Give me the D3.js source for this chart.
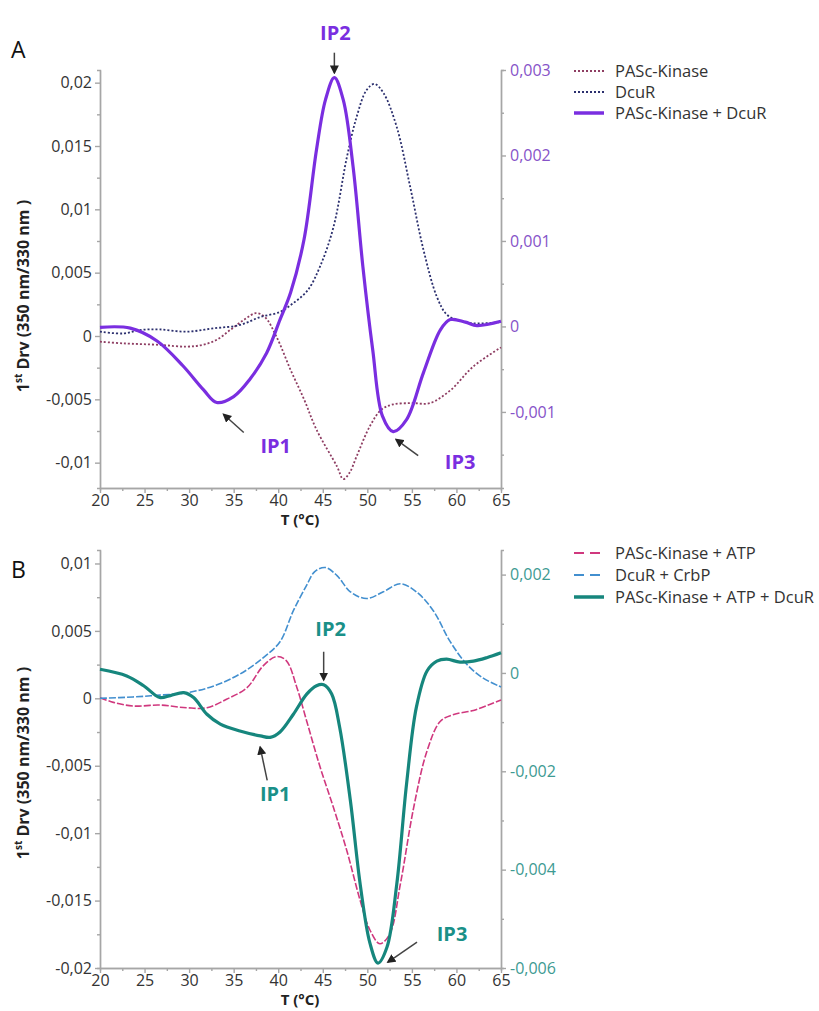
<!DOCTYPE html>
<html>
<head>
<meta charset="utf-8">
<script src="https://cdn.jsdelivr.net/npm/d3@7"></script>
<style>
  body { margin: 0; background: #fff; }
  svg { font-family: "Open Sans", sans-serif; }
</style>
</head>
<body>
<div id="chart"></div>
<script>
// ---- data, panel A ----
const kinaseT_A = [20, 22.6, 26.7, 29.7, 31.5, 33.1, 34.6, 36.2, 37.5, 38.5, 39.8, 41.4, 42.9, 44.3, 46.6, 47.3, 48.0, 48.8, 50.3, 51.6, 52.9, 55.0, 57.0, 59.3, 61.9, 65];
const kinaseV_A = [-0.00045, -0.00058, -0.0007, -0.00084, -0.0007, -0.0003, 0.00047, 0.0013, 0.0018, 0.0015, -0.00005, -0.0027, -0.005, -0.0074, -0.0103, -0.0113, -0.0108, -0.0095, -0.0071, -0.0058, -0.0054, -0.0053, -0.0053, -0.0043, -0.0024, -0.0009];

const dcurT_A = [20, 22.6, 24.5, 26.7, 29.7, 32.7, 35.7, 38.0, 40.2, 41.7, 43.3, 44.7, 46.2, 47.7, 48.8, 49.9, 50.8, 51.8, 53.3, 54.8, 56.3, 57.8, 58.9, 60.0, 62.0, 65];
const dcurV_A = [0.00034, 0.0002, 0.00047, 0.00052, 0.00034, 0.0006, 0.00087, 0.0015, 0.0019, 0.0026, 0.0036, 0.0055, 0.0086, 0.0141, 0.0173, 0.0194, 0.0199, 0.0192, 0.0165, 0.0118, 0.0068, 0.0031, 0.0017, 0.0013, 0.0010, 0.0011];

// complex, plotted against the right axis
const complexT_A = [20, 23.4, 26.4, 29.3, 31.6, 33.1, 35.0, 36.8, 38.7, 40.2, 41.4, 42.9, 44.3, 45.3, 46.3, 47.3, 48.4, 49.5, 50.6, 51.7, 52.9, 54.4, 56.3, 58.2, 59.3, 61.0, 62.3, 65];
const complexV_A = [-0.00001, -0.00002, -0.00017, -0.00046, -0.00074, -0.00089, -0.00082, -0.00062, -0.00031, 0.00008, 0.0004, 0.00102, 0.00207, 0.00265, 0.00291, 0.00265, 0.00187, 0.0007, -0.00027, -0.00105, -0.00123, -0.00109, -0.00054, -0.00004, 0.00008, 0.00005, 0.00001, 0.00006];

// ---- data, panel B ----
const kinaseT_B = [20, 21.5, 23.7, 26.7, 29.7, 32.0, 34.2, 36.5, 38.3, 39.8, 40.9, 42.1, 43.2, 44.7, 46.2, 47.7, 49.2, 50.3, 51.4, 52.5, 53.7, 55.2, 56.7, 58.2, 59.7, 61.9, 63.8, 65];
const kinaseV_B = [0.00005, -0.0003, -0.00057, -0.0005, -0.0007, -0.0007, -0.00007, 0.00079, 0.0024, 0.0031, 0.0028, 0.00079, -0.0017, -0.0051, -0.0081, -0.0113, -0.015, -0.0172, -0.0182, -0.0175, -0.0138, -0.0081, -0.0039, -0.0017, -0.0012, -0.0009, -0.00044, -0.00013];

const dcurT_B = [20, 23.7, 26.7, 29.7, 32.7, 35.7, 38.3, 40.2, 41.7, 43.2, 44.1, 45.3, 46.6, 48.1, 49.9, 51.8, 53.7, 55.5, 57.4, 59.3, 61.2, 63.0, 65];
const dcurV_B = [0, 0.0001, 0.00024, 0.00041, 0.0009, 0.0018, 0.003, 0.0042, 0.0065, 0.0084, 0.0094, 0.0097, 0.0091, 0.0079, 0.0074, 0.0079, 0.0085, 0.0079, 0.0065, 0.0042, 0.0025, 0.0015, 0.00084];

const complexT_B = [20, 23.0, 24.9, 26.7, 27.9, 29.4, 30.5, 32.0, 33.5, 35.7, 38.0, 39.1, 40.2, 41.7, 43.2, 44.3, 45.1, 46.0, 46.9, 48.1, 49.2, 50.3, 51.2, 52.2, 53.3, 54.4, 55.5, 56.7, 57.8, 58.9, 60.4, 61.9, 63.4, 65];
const complexV_B = [0.000075, -0.00006, -0.00026, -0.0005, -0.00046, -0.0004, -0.0005, -0.00084, -0.00104, -0.00118, -0.00128, -0.00131, -0.0012, -0.00084, -0.00043, -0.00026, -0.00024, -0.00043, -0.00111, -0.0026, -0.0043, -0.0055, -0.0059, -0.00558, -0.0043, -0.00226, -0.0007, 0.00004, 0.00024, 0.00028, 0.00022, 0.00024, 0.00031, 0.00041];

// ---- ticks and labels ----
const xTicks = [20, 25, 30, 35, 40, 45, 50, 55, 60, 65];
const xMinor = [22.5, 27.5, 32.5, 37.5, 42.5, 47.5, 52.5, 57.5, 62.5];
const leftTicksA = [-0.01, -0.005, 0, 0.005, 0.01, 0.015, 0.02];
const leftMinorA = [-0.0075, -0.0025, 0.0025, 0.0075, 0.0125, 0.0175];
const rightTicksA = [-0.001, 0, 0.001, 0.002, 0.003];
const rightMinorA = [-0.0015, -0.0005, 0.0005, 0.0015, 0.0025];
const leftTicksB = [-0.02, -0.015, -0.01, -0.005, 0, 0.005, 0.01];
const leftMinorB = [-0.0175, -0.0125, -0.0075, -0.0025, 0.0025, 0.0075];
const rightTicksB = [-0.006, -0.004, -0.002, 0, 0.002];
const rightMinorB = [-0.005, -0.003, -0.001, 0.001];

const legendA = ["PASc-Kinase", "DcuR", "PASc-Kinase + DcuR"];
const legendB = ["PASc-Kinase + ATP", "DcuR + CrbP", "PASc-Kinase + ATP + DcuR"];

const W = 819, H = 1011;
const svg = d3.select("#chart").append("svg")
    .attr("width", W)
    .attr("height", H);

svg.append("defs").append("marker")
    .attr("id", "arrow")
    .attr("viewBox", "0 0 10 10")
    .attr("refX", 8).attr("refY", 5)
    .attr("markerWidth", 6).attr("markerHeight", 6)
    .attr("orient", "auto-start-reverse")
    .append("path")
    .attr("d", "M0,0 L10,5 L0,10 z")
    .attr("fill", "#222");

const fmt = d => String(d).replace(".", ",");
const zip = (t, v) => t.map((d, i) => ({ t: d, v: v[i] }));

function panel(cfg) {
    const x = d3.scaleLinear().domain([20, 65]).range([100, 501]);
    const yL = d3.scaleLinear().domain(cfg.leftDomain).range([cfg.bottom, cfg.top]);
    const yR = d3.scaleLinear().domain(cfg.rightDomain).range([cfg.bottom, cfg.top]);

    const styleAxis = (g, color) => {
        g.selectAll("path, line").attr("stroke", "#a6a6a6").attr("stroke-width", 1.4);
        g.selectAll("text").attr("fill", color).style("font-size", "16px")
            .style("font-family", "'Open Sans', sans-serif");
    };

    // bottom axis
    svg.append("g").attr("transform", `translate(0,${cfg.bottom})`)
        .call(d3.axisBottom(x).tickValues(xMinor).tickSize(3).tickFormat(""))
        .call(g => styleAxis(g, "#333"));
    svg.append("g").attr("transform", `translate(0,${cfg.bottom})`)
        .call(d3.axisBottom(x).tickValues(xTicks).tickSize(5).tickSizeOuter(0).tickPadding(2).tickFormat(d => d))
        .call(g => styleAxis(g, "#333"));

    // left axis
    svg.append("g").attr("transform", "translate(100,0)")
        .call(d3.axisLeft(yL).tickValues(cfg.leftMinor).tickSize(3).tickFormat(""))
        .call(g => styleAxis(g, "#333"));
    svg.append("g").attr("transform", "translate(100,0)")
        .call(d3.axisLeft(yL).tickValues(cfg.leftTicks).tickSize(5).tickSizeOuter(0).tickPadding(3).tickFormat(fmt))
        .call(g => styleAxis(g, "#333"));

    // right axis
    svg.append("g").attr("transform", "translate(501,0)")
        .call(d3.axisRight(yR).tickValues(cfg.rightMinor).tickSize(3).tickFormat(""))
        .call(g => styleAxis(g, cfg.rightColor));
    svg.append("g").attr("transform", "translate(501,0)")
        .call(d3.axisRight(yR).tickValues(cfg.rightTicks).tickSize(5).tickSizeOuter(0).tickPadding(4).tickFormat(fmt))
        .call(g => styleAxis(g, cfg.rightColor));

    // lines
    const lineL = d3.line().x(d => x(d.t)).y(d => yL(d.v)).curve(d3.curveCatmullRom.alpha(0.5));
    const lineR = d3.line().x(d => x(d.t)).y(d => yR(d.v)).curve(d3.curveCatmullRom.alpha(0.5));

    cfg.series.forEach(s => {
        svg.append("path")
            .datum(zip(s.t, s.v))
            .attr("fill", "none")
            .attr("stroke", s.color)
            .attr("stroke-width", s.width)
            .attr("stroke-dasharray", s.dash)
            .attr("d", s.right ? lineR : lineL);
    });

    // annotations pointing at the extrema of the complex curve
    const comp = zip(cfg.series[2].t, cfg.series[2].v);
    cfg.notes.forEach(n => {
        const sub = comp.filter(d => d.t >= n.range[0] && d.t <= n.range[1]);
        const p = n.max ? sub.reduce((a, b) => b.v > a.v ? b : a) : sub.reduce((a, b) => b.v < a.v ? b : a);
        const px = x(p.t), py = yR(p.v);
        svg.append("line")
            .attr("x1", px + n.tail[0]).attr("y1", py + n.tail[1])
            .attr("x2", px + n.head[0]).attr("y2", py + n.head[1])
            .attr("stroke", "#444").attr("stroke-width", 1.5)
            .attr("marker-end", "url(#arrow)");
        svg.append("text")
            .attr("x", px + n.label[0]).attr("y", py + n.label[1])
            .attr("text-anchor", "middle")
            .attr("fill", cfg.noteColor)
            .style("font-size", "20px").style("font-weight", "bold")
            .text(n.text);
    });

    // axis titles
    svg.append("text")
        .attr("x", 300).attr("y", cfg.bottom + 37)
        .attr("text-anchor", "middle")
        .style("font-size", "15px").style("font-weight", "bold").attr("fill", "#222")
        .text("T (°C)");
    const yt = svg.append("text")
        .attr("transform", `translate(29,${cfg.titleY}) rotate(-90)`)
        .attr("text-anchor", "middle")
        .style("font-size", "16px").style("font-weight", "bold").attr("fill", "#222");
    yt.append("tspan").text("1");
    yt.append("tspan").attr("baseline-shift", "super").style("font-size", "10px").text("st");
    yt.append("tspan").text(" Drv (350 nm/330 nm )");

    // panel letter
    svg.append("text")
        .attr("x", 11).attr("y", cfg.letterY)
        .style("font-size", "23px").attr("fill", "#111")
        .text(cfg.letter);

    // legend
    cfg.series.forEach((s, i) => {
        const ly = cfg.legendY + i * cfg.legendStep;
        svg.append("line")
            .attr("x1", cfg.legendX).attr("x2", cfg.legendX + 30)
            .attr("y1", ly).attr("y2", ly)
            .attr("stroke", s.color)
            .attr("stroke-width", s.right ? 3.5 : 2.2)
            .attr("stroke-dasharray", s.legendDash);
        svg.append("text")
            .attr("x", cfg.legendX + 41).attr("y", ly)
            .attr("dy", "0.35em")
            .style("font-size", "16.5px").attr("fill", "#333")
            .text(cfg.legend[i]);
    });
}

panel({
    top: 70, bottom: 488,
    leftDomain: [-0.012, 0.021], rightDomain: [-0.00189, 0.003],
    leftTicks: leftTicksA, leftMinor: leftMinorA,
    rightTicks: rightTicksA, rightMinor: rightMinorA,
    rightColor: "#8653c8", noteColor: "#7a2ee0",
    letter: "A", letterY: 58, titleY: 296,
    legend: legendA, legendX: 574, legendY: 71, legendStep: 21,
    series: [
        { t: kinaseT_A, v: kinaseV_A, color: "#8e3d62", width: 1.8, dash: "2,2", legendDash: "2,2" },
        { t: dcurT_A, v: dcurV_A, color: "#2b2f6e", width: 1.8, dash: "2,2", legendDash: "2,2" },
        { t: complexT_A, v: complexV_A, color: "#7a2ee0", width: 3.2, dash: null, legendDash: null, right: true }
    ],
    notes: [
        { text: "IP1", range: [25, 40], tail: [27, 30], head: [7, 12], label: [59, 50] },
        { text: "IP2", range: [40, 50], max: true, tail: [0, -25], head: [0, -5], label: [1, -38] },
        { text: "IP3", range: [50, 56], tail: [25, 24], head: [3, 8], label: [67, 37] }
    ]
});

panel({
    top: 550, bottom: 968,
    leftDomain: [-0.02, 0.011], rightDomain: [-0.006, 0.0025],
    leftTicks: leftTicksB, leftMinor: leftMinorB,
    rightTicks: rightTicksB, rightMinor: rightMinorB,
    rightColor: "#3d9a92", noteColor: "#1a9088",
    letter: "B", letterY: 578, titleY: 763,
    legend: legendB, legendX: 574, legendY: 553, legendStep: 22,
    series: [
        { t: kinaseT_B, v: kinaseV_B, color: "#d0387e", width: 1.6, dash: "7,2", legendDash: "10,6" },
        { t: dcurT_B, v: dcurV_B, color: "#428fcf", width: 1.6, dash: "7,2", legendDash: "10,6" },
        { t: complexT_B, v: complexV_B, color: "#16867d", width: 3.2, dash: null, legendDash: null, right: true }
    ],
    notes: [
        { text: "IP1", range: [35, 42], tail: [-3, 43], head: [-10, 10], label: [5, 64] },
        { text: "IP2", range: [43, 47], max: true, tail: [0, -33], head: [0, -5], label: [7, -49] },
        { text: "IP3", range: [48, 55], tail: [39, -21], head: [10, -1], label: [74, -22] }
    ]
});
</script>
</body>
</html>
